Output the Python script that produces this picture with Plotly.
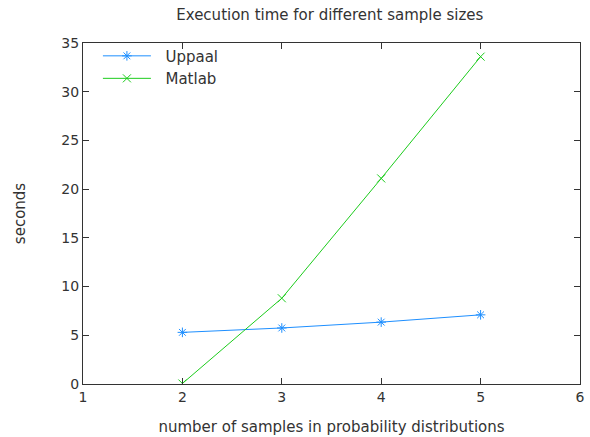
import plotly.graph_objects as go

samples = [2, 3, 4, 5]
uppaal = [5.3, 5.75, 6.35, 7.1]
matlab = [0.05, 8.8, 21.1, 33.6]

font = "DejaVu Sans"
txt = "#333333"
fig = go.Figure()
fig.add_trace(go.Scatter(x=samples, y=uppaal, mode="lines+markers", name="\u00a0\u00a0Uppaal",
                         line=dict(color="#1e8fff", width=1),
                         marker=dict(symbol="asterisk-open", size=8, color="#1e8fff",
                                     line=dict(color="#1e8fff", width=1))))
fig.add_trace(go.Scatter(x=samples, y=matlab, mode="lines+markers", name="\u00a0\u00a0Matlab",
                         line=dict(color="#1ccc1c", width=1),
                         marker=dict(symbol="x-thin-open", size=8, color="#1ccc1c",
                                     line=dict(color="#1ccc1c", width=1))))

axis_common = dict(showgrid=False, zeroline=False, showline=True, mirror="ticks",
                   linecolor="#333333", linewidth=1, ticks="inside", ticklen=6,
                   tickcolor="#333333", automargin=False,
                   tickfont=dict(family=font, size=14, color=txt))
fig.update_layout(
    width=590, height=437,
    margin=dict(l=83, r=10, t=43, b=53),
    paper_bgcolor="white", plot_bgcolor="white",
    title=dict(text="Execution time for different sample sizes", x=0.559, xanchor="center",
               y=0.966, yanchor="middle",
               font=dict(family=font, size=15, color=txt)),
    xaxis=dict(range=[1, 6], dtick=1, tick0=1,
               title=dict(text="number of samples in probability distributions",
                          font=dict(family=font, size=15, color=txt), standoff=17),
               **axis_common),
    yaxis=dict(range=[0, 35], dtick=5, tick0=0,
               title=dict(text="seconds", font=dict(family=font, size=15, color=txt),
                          standoff=32),
               **axis_common),
    legend=dict(x=0.03, y=1.01, xanchor="left", yanchor="top", bgcolor="rgba(0,0,0,0)",
                font=dict(family=font, size=15, color=txt),
                itemwidth=48, tracegroupgap=0),
    showlegend=True,
)
fig.write_html("out.html", config={"displayModeBar": False},
               post_script="document.body.style.margin='0';document.body.style.overflow='hidden';")
